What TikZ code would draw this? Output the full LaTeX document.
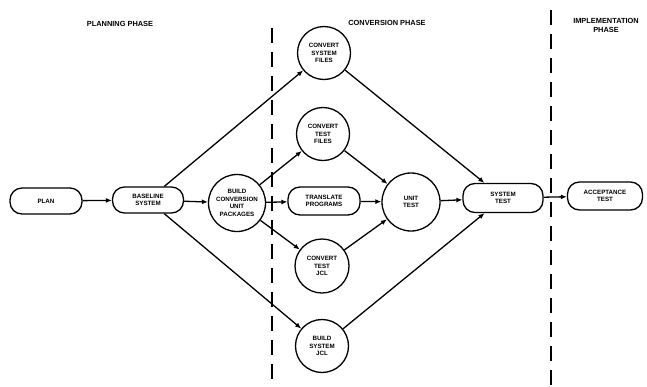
\documentclass[tikz,border=0pt]{standalone}
\usepackage{fontspec}
\setmainfont{Liberation Sans}
\usetikzlibrary{arrows.meta}
\begin{document}
\begin{tikzpicture}[x=1pt,y=-1pt,
  every node/.style={font=\fontsize{6.2}{7.6}\selectfont\bfseries, align=center, inner sep=0pt},
  pill/.style={draw, line width=1.3pt, rounded corners=12pt, minimum height=26pt},
  disc/.style={draw, circle, line width=1.3pt},
  conn/.style={line width=1.3pt, -{Latex[length=6pt,width=5pt]}},
  phase/.style={font=\fontsize{7.4}{9}\selectfont\bfseries},
  divider/.style={line width=1.2pt, dash pattern=on 15pt off 9pt}]
\useasboundingbox (0,0) rectangle (647,386);
% phase labels
\node[phase] (lplan) at (120,24) {PLANNING PHASE};
\node[phase] (lconv) at (387,23) {CONVERSION PHASE};
\node[phase] (limpl) at (606,25) {IMPLEMENTATION\\PHASE};
% dividers
\coordinate (d1t) at (272,28);
\coordinate (d1b) at (272,386);
\coordinate (d2t) at (551,10);
\coordinate (d2b) at (551,386);
\draw[divider] (d1t) -- (d1b);
\draw[divider] (d2t) -- (d2b);
% nodes
\node[pill, minimum width=72pt] (plan) at (46,201) {PLAN};
\node[pill, minimum width=71pt] (base) at (148,200) {BASELINE\\SYSTEM};
\node[disc, minimum size=57pt] (bcup) at (237,203) {BUILD\\CONVERSION\\UNIT\\PACKAGES};
\node[disc, minimum size=53pt] (csf) at (324,53) {CONVERT\\SYSTEM\\FILES};
\node[disc, minimum size=53pt] (ctf) at (323,134) {CONVERT\\TEST\\FILES};
\node[pill, minimum width=72pt, minimum height=28pt] (tp) at (324,201) {TRANSLATE\\PROGRAMS};
\node[disc, minimum size=58pt] (ut) at (411,202) {UNIT\\TEST};
\node[disc, minimum size=54pt] (ctj) at (322,266) {CONVERT\\TEST\\JCL};
\node[disc, minimum size=53pt] (bsj) at (322,346) {BUILD\\SYSTEM\\JCL};
\node[pill, minimum width=80pt, minimum height=29pt] (st) at (503,198) {SYSTEM\\TEST};
\node[pill, minimum width=75pt, minimum height=28pt] (at) at (605,196) {ACCEPTANCE\\TEST};
% connectors
\draw[conn] (plan) -- (base);
\draw[conn] (base) -- (bcup);
\draw[conn] (base) -- (csf);
\draw[conn] (base) -- (bsj);
\draw[conn] (bcup) -- (ctf);
\draw[conn] (bcup) -- (tp);
\draw[conn] (bcup) -- (ctj);
\draw[conn] (ctf) -- (ut);
\draw[conn] (tp) -- (ut);
\draw[conn] (ctj) -- (ut);
\draw[conn] (ut) -- (st);
\draw[conn] (csf) -- (st);
\draw[conn] (bsj) -- (st);
\draw[conn] (st) -- (at);
\end{tikzpicture}
\end{document}
